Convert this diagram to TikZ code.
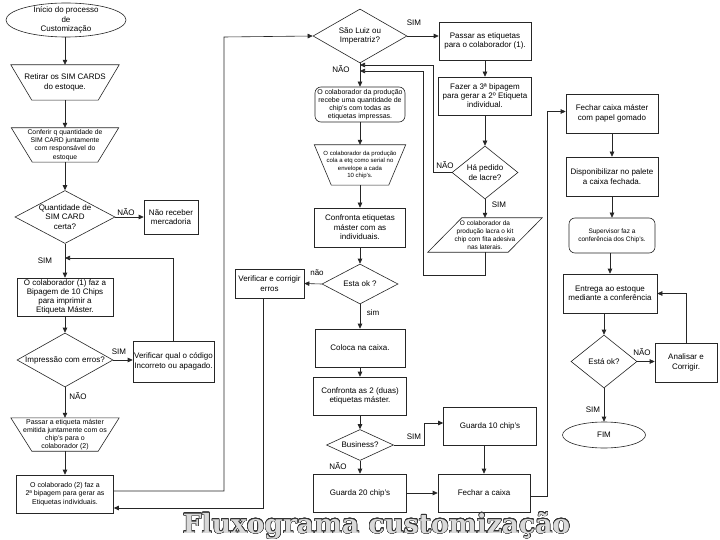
\documentclass[tikz,border=0pt]{standalone}
\usepackage{fontspec}
\setmainfont{Liberation Sans}
\newfontfamily\titlefont{DejaVu Serif}
\usepackage{contour}
\contourlength{0.45pt}
\contournumber{24}
\usetikzlibrary{arrows.meta,shapes.geometric}
\newcommand\invtrap[2]{\draw[shp] (#1.north west) -- (#1.north east) -- ([xshift=-#2pt]#1.south east) -- ([xshift=#2pt]#1.south west) -- cycle;}
\newcommand\parall[2]{\draw[shp] ([xshift=#2pt]#1.north west) -- (#1.north east) -- ([xshift=-#2pt]#1.south east) -- (#1.south west) -- cycle;}
\begin{document}
\begin{tikzpicture}[x=1pt,y=-1pt,
 every node/.style={inner sep=0pt,align=center,font=\fontsize{8}{9.5}\selectfont},
 shp/.style={draw=black!85,line width=0.6pt},
 bx/.style={shp,fill=white,rectangle},
 rbx/.style={shp,fill=white,rectangle,rounded corners=6pt},
 dia/.style={shp,fill=white,diamond},
 ell/.style={shp,fill=white,ellipse},
 arr/.style={draw=black!85,line width=0.6pt,-{Triangle[length=5pt,width=4.5pt]}},
 ln/.style={draw=black!85,line width=0.6pt},
 lbl/.style={font=\fontsize{8}{9.5}\selectfont},
 f7/.style={font=\fontsize{7}{8.3}\selectfont}]
\useasboundingbox (0,0) rectangle (720,540);
\fill[white] (0,0) rectangle (720,540);

% ---------- column 1 ----------
\node[ell,minimum width=120pt,minimum height=34pt,label={center:{Início do processo\\de\\Customização}}] (st) at (66,20) {};
\node[minimum width=108pt,minimum height=35pt] (t1) at (65,82.5) {Retirar os SIM CARDS\\do estoque.};
\invtrap{t1}{21}
\node[minimum width=107pt,minimum height=34pt,font=\fontsize{6.8}{8.4}\selectfont] (t2) at (65,145) {Conferir q quantidade de\\SIM CARD juntamente\\com responsável do\\estoque};
\invtrap{t2}{21}
\node[dia,minimum width=100pt,minimum height=53pt,label={center:{Quantidade de\\SIM CARD\\certa?}}] (d1) at (65,217) {};
\node[bx,minimum width=54pt,minimum height=34pt] (nr) at (171,217) {Não receber\\mercadoria};
\node[bx,minimum width=96pt,minimum height=38pt,font=\fontsize{8}{9.2}\selectfont] (b1) at (65,297) {O colaborador (1) faz a\\Bipagem de 10 Chips\\para imprimir a\\Etiqueta Máster.};
\node[dia,minimum width=96pt,minimum height=54pt,label={center:{Impressão com erros?}}] (d2) at (65,360) {};
\node[bx,minimum width=81pt,minimum height=41pt] (vq) at (173.5,361.5) {Verificar qual o código\\Incorreto ou apagado.};
\node[minimum width=108pt,minimum height=33pt,font=\fontsize{7}{8.2}\selectfont] (t3) at (65,434.5) {Passar a etiqueta máster\\emitida juntamente com os\\chip's para o\\colaborador (2)};
\invtrap{t3}{21}
\node[bx,minimum width=97pt,minimum height=38pt,f7] (b2) at (65,494) {O colaborado (2) faz a\\2ª bipagem para gerar as\\Etiquetas individuais.};
\coordinate (j1) at (65,258);
\coordinate (k1) at (224,37);

% ---------- column 2 ----------
\node[dia,minimum width=94pt,minimum height=54pt,label={center:{São Luiz ou\\Imperatriz?}}] (sl) at (360,36) {};
\node[rbx,minimum width=90pt,minimum height=35pt,font=\fontsize{7}{8}\selectfont] (rb1) at (360,104.5) {O colaborador da produção\\recebe uma quantidade de\\chip's com todas as\\etiquetas impressas.};
\node[minimum width=91pt,minimum height=40pt,font=\fontsize{6}{7.5}\selectfont] (t4) at (360,165) {O colaborador da produção\\cola a etq como serial no\\envelope a cada\\10 chip's.};
\invtrap{t4}{17}
\node[bx,minimum width=91pt,minimum height=39pt] (cf) at (360,227.5) {Confronta etiquetas\\máster com as\\individuais.};
\node[dia,minimum width=76pt,minimum height=40pt,label={center:{Esta ok ?}}] (ok) at (360,284) {};
\node[bx,minimum width=69pt,minimum height=29pt] (verr) at (269.5,283.5) {Verificar e corrigir\\erros};
\node[bx,minimum width=90pt,minimum height=38pt] (cx) at (360,348) {Coloca na caixa.};
\node[bx,minimum width=93pt,minimum height=38pt] (cf2) at (360,396) {Confronta as 2 (duas)\\etiquetas máster.};
\node[dia,minimum width=67pt,minimum height=31pt,label={center:{Business?}}] (bus) at (360,445) {};
\node[bx,minimum width=93pt,minimum height=38pt] (g10) at (490,426) {Guarda 10 chip's};
\node[bx,minimum width=93pt,minimum height=38pt] (g20) at (360,493) {Guarda 20 chip's};
\node[bx,minimum width=92pt,minimum height=38pt] (fc) at (484,493) {Fechar a caixa};
\coordinate (j2) at (360,71);
\coordinate (j3) at (360,65);

% ---------- column 3 ----------
\node[bx,minimum width=92pt,minimum height=38pt] (pe) at (485,41) {Passar as etiquetas\\para o colaborador (1).};
\node[bx,minimum width=93pt,minimum height=38pt,font=\fontsize{8}{9}\selectfont] (fz) at (485,96) {Fazer a 3ª bipagem\\para gerar a 2º Etiqueta\\individual.};
\node[dia,minimum width=66pt,minimum height=53pt,label={center:{Há pedido\\de lacre?}}] (lac) at (485,172.5) {};
\node[minimum width=114pt,minimum height=34pt,font=\fontsize{6.5}{8.2}\selectfont] (par) at (485,235) {O colaborador da\\produção lacra o kit\\chip com fita adesiva\\nas laterais.};
\parall{par}{34}
\coordinate (k2) at (433,65);
\coordinate (k3) at (423,275);

% ---------- column 4 ----------
\node[bx,minimum width=92pt,minimum height=39pt] (fm) at (612,113.5) {Fechar caixa máster\\com papel gomado};
\node[bx,minimum width=92pt,minimum height=39pt] (dp) at (612,176.5) {Disponibilizar no palete\\a caixa fechada.};
\node[rbx,minimum width=86pt,minimum height=35pt,font=\fontsize{6.5}{8}\selectfont] (sup) at (612,235.5) {Supervisor faz a\\conferência dos Chip's.};
\node[bx,minimum width=94pt,minimum height=39pt] (ent) at (610,293.5) {Entrega ao estoque\\mediante a conferência};
\node[dia,minimum width=66pt,minimum height=53pt,label={center:{Está ok?}}] (ok2) at (604,361.5) {};
\node[bx,minimum width=62pt,minimum height=39pt] (an) at (686,362.5) {Analisar e\\Corrigir.};
\node[ell,minimum width=83pt,minimum height=26pt,label={center:{FIM}}] (fim) at (604,435) {};

% ---------- connectors column 1 ----------
\draw[arr] (st.south -| t1.north) -- (t1.north);
\draw[arr] (t1.south) -- (t2.north);
\draw[arr] (t2.south) -- (d1.north);
\draw[arr] (d1.east) -- (nr.west);
\draw[arr] (d1.south) -- (b1.north);
\draw[arr] (b1.south) -- (d2.north);
\draw[arr] (d2.east) -- (d2.east -| vq.west);
\draw[arr] (vq.north) |- (j1);
\draw[arr] (d2.south) -- (t3.north);
\draw[arr] (t3.south) -- (b2.north);
\draw[arr] ([yshift=3pt]b2.east) -| (k1) -- (sl.west);
\draw[arr] ([xshift=-6pt]verr.south) |- ([yshift=-14pt]b2.east);

% ---------- connectors column 2 ----------
\draw[arr] (sl.east) -- (sl.east -| pe.west);
\draw[arr] (sl.south) -- (rb1.north);
\draw[arr] (rb1.south) -- (t4.north);
\draw[arr] (t4.south) -- (cf.north);
\draw[arr] (cf.south) -- (ok.north);
\draw[arr] (ok.west) -- (verr.east);
\draw[arr] (ok.south) -- (cx.north);
\draw[arr] (cx.south) -- (cf2.north);
\draw[arr] (cf2.south) -- (bus.north);
\draw[arr] (bus.east) -- ++(30,0) |- ([yshift=3pt]g10.west);
\draw[arr] (bus.south) -- (g20.north);
\draw[arr] (g20.east) -- (fc.west);
\draw[arr] (fc.north |- g10.south) -- (fc.north);
\draw[arr] ([yshift=-3pt]fc.east) -- ++(17,0) |- ([yshift=2pt]fm.west);

% ---------- connectors column 3 ----------
\draw[arr] (pe.south) -- (fz.north);
\draw[arr] (fz.south) -- (lac.north);
\draw[arr] (lac.south) -- (par.north);
\draw[arr] (lac.west) -| (k2) -- (j3);
\draw[arr] (par.south) |- (k3) |- (j2);

% ---------- connectors column 4 ----------
\draw[arr] (fm.south) -- (dp.north);
\draw[arr] (dp.south) -- (sup.north);
\draw[arr] (ent.north |- sup.south) -- (ent.north);
\draw[arr] (ok2.north |- ent.south) -- (ok2.north);
\draw[arr] (ok2.east) -- (ok2.east -| an.west);
\draw[arr] (an.north) |- (ent.east);
\draw[arr] (ok2.south) -- (fim.north);

% ---------- labels ----------
\node[lbl] (l1) at (126,212) {NÃO};
\node[lbl] (l2) at (45,261) {SIM};
\node[lbl] (l3) at (119,352) {SIM};
\node[lbl] (l4) at (78,396) {NÃO};
\node[lbl] (l5) at (341,69) {NÃO};
\node[lbl] (l6) at (414,23) {SIM};
\node[lbl] (l7) at (317,273) {não};
\node[lbl] (l8) at (373,313) {sim};
\node[lbl] (l9) at (414,437) {SIM};
\node[lbl] (l10) at (338,466) {NÃO};
\node[lbl] (l11) at (445,165) {NÃO};
\node[lbl] (l12) at (499,205) {SIM};
\node[lbl] (l13) at (642,352) {NÃO};
\node[lbl] (l14) at (593,410) {SIM};

% ---------- title ----------
\node[font=\titlefont\bfseries\fontsize{26.5}{30}\selectfont,anchor=base] (ttl) at (376.5,533) {\contour{black!80}{\textcolor{gray!30}{Fluxograma customização}}};
\end{tikzpicture}
\end{document}
